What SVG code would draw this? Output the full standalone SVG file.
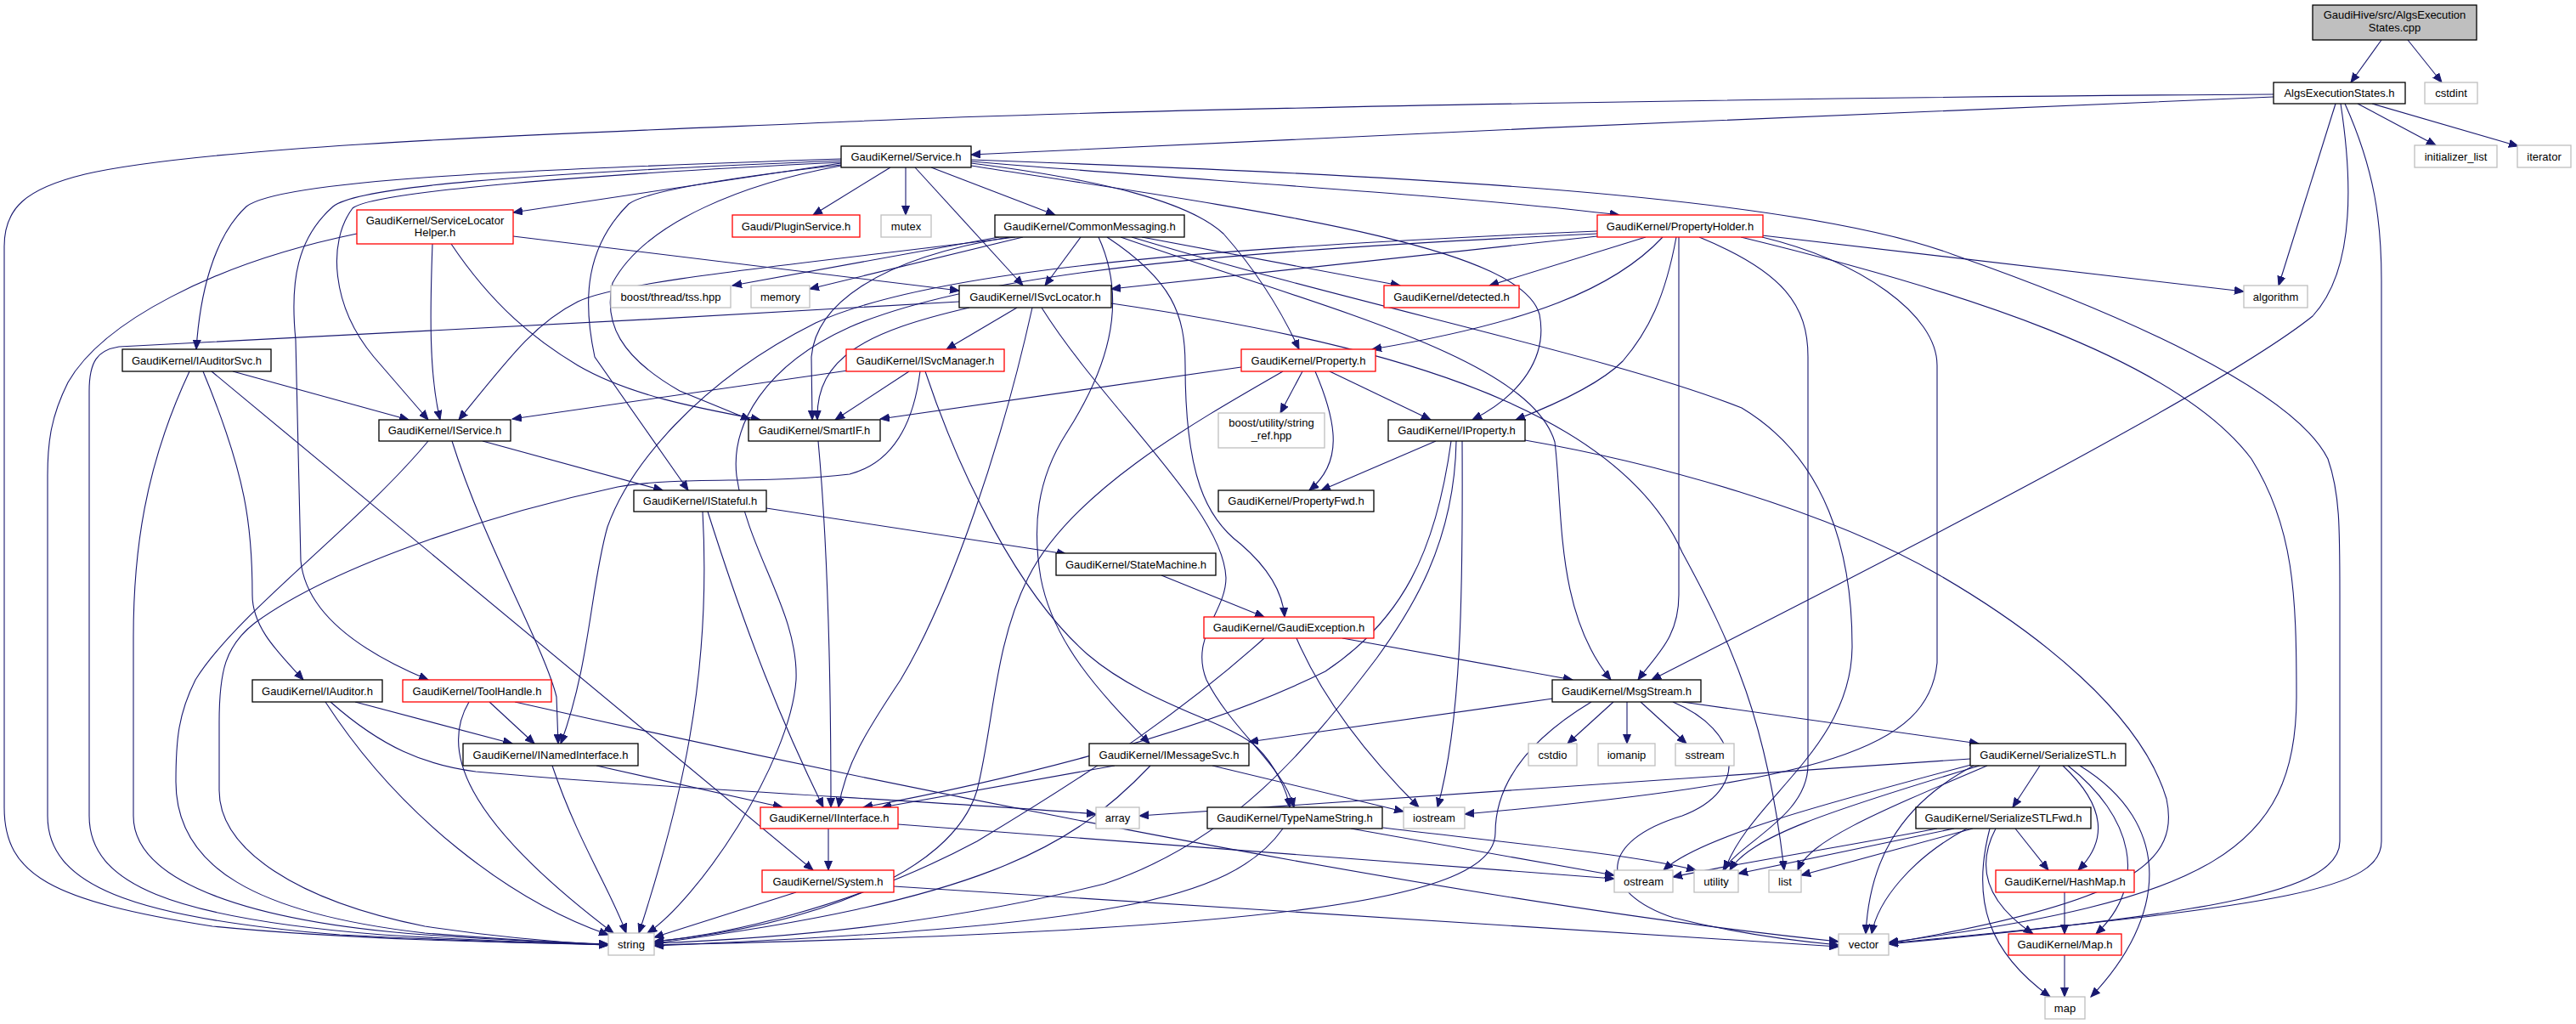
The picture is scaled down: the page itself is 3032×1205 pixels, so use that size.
<svg xmlns="http://www.w3.org/2000/svg" width="3032" height="1205" viewBox="0 0 3032 1205">
<defs>
<marker id="a" markerWidth="12" markerHeight="10" refX="11" refY="5" orient="auto" markerUnits="userSpaceOnUse"><path d="M0,0.5 L11,5 L0,9.5 z" fill="#191970" stroke="#191970" stroke-width="1"/></marker>
<style>
.e path{fill:none;stroke:#191970;stroke-width:1.1;marker-end:url(#a)}
.n rect{fill:#fff;stroke-width:1.3}
.k rect{stroke:#000}
.r rect{stroke:#ff0000}
.g rect{stroke:#bfbfbf}
.n text{font-family:"Liberation Sans",Arial,sans-serif;font-size:13px;text-anchor:middle;fill:#000}
</style>
</defs>
<rect width="3032" height="1205" fill="#fff"/>
<g id="edges" class="e">
<path d="M2803,47 L2767,97"/>
<path d="M2834,47 L2874,97"/>
<path d="M2775,122 L2867,171"/>
<path d="M2792,122 L2964,172"/>
<path d="M2749,122 L2682,336"/>
<path d="M2755,122 C2770,220 2770,320 2722,372 C2600,470 2100,720 1944,800"/>
<path d="M2760,122 C2795,200 2803,260 2803,330 L2803,990 C2803,1045 2700,1065 2223,1110"/>
<path d="M2676,114 C2300,128 1600,160 1143,182"/>
<path d="M2676,111 C2300,113 1400,125 1000,143 C700,156 250,170 100,205 C30,222 5,245 5,290 L5,950 C5,1030 60,1060 250,1090 C400,1105 600,1110 716,1111"/>
<path d="M990,192 L604,250"/>
<path d="M1048,197 L957,253"/>
<path d="M1066,197 L1066,253"/>
<path d="M1077,197 L1204,336"/>
<path d="M1096,197 L1242,253"/>
<path d="M1143,190 C1400,212 1700,228 1906,253"/>
<path d="M1143,188 C1600,205 2100,225 2300,300 C2500,370 2700,460 2740,540 C2754,580 2754,620 2754,700 L2754,990 C2754,1050 2600,1075 2223,1111"/>
<path d="M1143,192 C1300,212 1400,238 1440,275 C1480,320 1510,370 1529,411"/>
<path d="M1143,195 C1500,250 1790,290 1812,370 C1822,420 1790,465 1733,494"/>
<path d="M990,187 C600,200 330,212 290,243 C250,280 235,350 231,411"/>
<path d="M990,189 C600,205 420,220 392,243 C350,280 341,330 348,400 L354,660 C360,720 420,765 504,800"/>
<path d="M990,191 C700,205 440,225 415,245 C385,285 390,360 440,420 L504,494"/>
<path d="M990,194 C850,210 760,225 740,240 C690,290 685,350 700,420 L810,577"/>
<path d="M990,195 C880,215 760,260 721,333 C710,380 730,420 800,460 L883,494"/>
<path d="M604,278 L1129,342"/>
<path d="M509,287 C506,370 505,440 518,494"/>
<path d="M531,287 C580,360 630,400 680,430 C740,465 820,480 895,494"/>
<path d="M420,275 C250,310 120,380 80,450 C60,490 56,520 56,560 L56,960 C56,1040 150,1080 400,1100 C550,1108 650,1110 716,1112"/>
<path d="M1176,279 L862,336"/>
<path d="M1204,279 L953,340"/>
<path d="M1272,279 L1230,336"/>
<path d="M1195,279 C950,310 730,330 680,355 C630,380 600,420 540,494"/>
<path d="M1188,279 C1030,305 960,360 955,420 L956,494"/>
<path d="M1293,279 C1330,360 1300,440 1255,510 C1220,565 1215,620 1225,680 C1240,760 1300,820 1353,875"/>
<path d="M1303,279 C1380,330 1395,370 1395,430 C1395,560 1420,610 1460,640 C1495,670 1510,700 1512,726"/>
<path d="M1344,279 L1648,336"/>
<path d="M1319,279 C1550,360 1800,420 1830,520 C1840,600 1830,720 1896,800"/>
<path d="M1332,279 C1600,360 1900,420 2050,480 C2150,540 2180,650 2180,760 C2180,880 2060,940 2030,1024"/>
<path d="M1308,357 C1600,400 1900,470 1980,650 C2040,760 2080,850 2100,1024"/>
<path d="M1880,278 L1308,340"/>
<path d="M1937,279 L1753,336"/>
<path d="M1957,279 C1900,340 1800,380 1615,411"/>
<path d="M1973,279 C1960,350 1940,390 1910,425 C1880,455 1820,480 1784,494"/>
<path d="M1976,279 L1976,700 C1976,750 1950,770 1928,800"/>
<path d="M2074,277 L2641,343"/>
<path d="M2000,279 C2100,320 2128,360 2128,420 L2128,900 C2128,960 2050,990 2028,1024"/>
<path d="M2074,279 C2190,307 2280,370 2280,430 L2280,780 C2270,880 2150,920 1724,958"/>
<path d="M2049,279 C2300,340 2560,420 2650,540 C2700,620 2703,700 2703,820 C2703,1000 2600,1060 2223,1109"/>
<path d="M1880,272 C1450,290 1100,315 960,380 C820,450 740,550 715,620 C695,690 695,780 660,875"/>
<path d="M1880,275 C1450,295 1150,320 1000,385 C900,430 860,500 867,560 C880,650 940,720 937,800 C930,900 820,1060 762,1098"/>
<path d="M1197,362 L1114,411"/>
<path d="M1141,362 C1020,390 960,420 962,494"/>
<path d="M1215,362 C1180,520 1120,700 1060,800 C1020,860 995,900 987,950"/>
<path d="M1226,362 C1300,480 1440,600 1443,680 C1443,720 1400,750 1420,800 C1450,860 1510,900 1523,950"/>
<path d="M1129,355 C800,375 300,400 140,408 C115,412 105,425 105,460 L105,960 C105,1040 200,1080 450,1100 C580,1108 670,1110 716,1112"/>
<path d="M274,437 L481,494"/>
<path d="M239,437 C290,560 297,620 297,700 C297,740 330,770 357,800"/>
<path d="M249,437 L957,1024"/>
<path d="M223,437 C170,550 157,650 157,750 L157,960 C157,1040 300,1085 500,1100 C600,1107 680,1110 716,1112"/>
<path d="M998,436 L603,493"/>
<path d="M1070,437 L983,494"/>
<path d="M1089,437 C1130,560 1200,700 1280,770 C1350,830 1450,850 1480,880 C1500,900 1515,930 1518,950"/>
<path d="M1083,437 C1075,500 1050,545 1000,558 C900,570 800,560 727,573 C600,600 400,660 300,733 C265,760 258,790 258,850 L258,930 C258,1000 350,1060 500,1090 C600,1105 680,1110 716,1112"/>
<path d="M1461,432 L1036,493"/>
<path d="M1510,437 C1400,500 1260,580 1210,680 C1170,760 1170,850 1150,930 C1120,1030 950,1090 770,1108"/>
<path d="M1533,437 L1507,486"/>
<path d="M1548,437 C1575,500 1580,545 1541,577"/>
<path d="M1565,437 L1684,494"/>
<path d="M568,519 L780,577"/>
<path d="M532,519 C570,640 640,760 655,820 L657,875"/>
<path d="M504,519 C420,620 280,720 230,800 C210,840 207,870 207,920 C207,1020 300,1075 500,1098 C600,1106 680,1110 716,1111"/>
<path d="M963,519 C975,650 978,800 978,950"/>
<path d="M1690,519 L1555,577"/>
<path d="M1708,519 C1690,650 1650,730 1560,790 C1400,870 1150,925 1016,950"/>
<path d="M1714,519 C1712,640 1660,720 1620,775 C1540,880 1450,990 1300,1040 C1100,1090 900,1105 770,1110"/>
<path d="M1721,519 C1722,700 1720,850 1692,950"/>
<path d="M1795,518 C1950,545 2150,600 2283,677 C2400,745 2520,840 2550,940 C2565,1010 2520,1060 2223,1110"/>
<path d="M902,598 L1255,652"/>
<path d="M833,602 C880,750 920,850 969,950"/>
<path d="M827,602 C838,800 800,950 752,1098"/>
<path d="M1367,677 L1488,726"/>
<path d="M1580,751 L1851,800"/>
<path d="M1488,751 C1400,830 1300,900 1150,990 C1000,1070 850,1100 770,1108"/>
<path d="M1526,751 C1560,830 1620,900 1670,950"/>
<path d="M418,826 L603,875"/>
<path d="M383,826 C470,960 600,1060 716,1100"/>
<path d="M389,826 C450,880 500,900 560,908 C800,930 1100,942 1290,958"/>
<path d="M576,826 L629,875"/>
<path d="M552,826 C520,880 540,960 722,1098"/>
<path d="M606,826 C1000,915 1700,1060 2164,1108"/>
<path d="M702,901 L921,950"/>
<path d="M650,901 C680,990 720,1050 737,1098"/>
<path d="M1312,901 L1038,950"/>
<path d="M1354,901 C1260,1000 1150,1060 770,1110"/>
<path d="M1427,901 L1652,955"/>
<path d="M975,975 L975,1024"/>
<path d="M1057,970 L1900,1034"/>
<path d="M937,1050 L770,1103"/>
<path d="M1052,1043 L2164,1114"/>
<path d="M1510,975 C1450,1060 1300,1090 770,1113"/>
<path d="M1590,975 L1900,1030"/>
<path d="M1628,974 C1800,995 1920,1005 1996,1024"/>
<path d="M1828,822 L1470,873"/>
<path d="M1899,826 L1845,875"/>
<path d="M1915,826 L1915,875"/>
<path d="M1931,826 L1985,875"/>
<path d="M1980,826 L2329,875"/>
<path d="M1873,826 C1800,870 1760,920 1760,980 C1760,1060 1500,1095 770,1112"/>
<path d="M1969,826 C2050,860 2060,930 1980,960 C1880,990 1880,1050 1970,1080 C2050,1100 2120,1108 2164,1112"/>
<path d="M2319,893 L1341,960"/>
<path d="M2401,901 L2369,950"/>
<path d="M2428,901 C2480,950 2480,990 2446,1024"/>
<path d="M2434,901 C2510,960 2530,1040 2467,1099"/>
<path d="M2448,901 C2560,970 2550,1080 2461,1173"/>
<path d="M2323,901 C2230,950 2200,1020 2196,1099"/>
<path d="M2339,901 C2200,960 2130,990 2116,1024"/>
<path d="M2330,901 C2150,955 2060,985 2036,1024"/>
<path d="M2320,900 C2150,945 2000,985 1958,1024"/>
<path d="M2372,975 L2411,1024"/>
<path d="M2349,975 C2320,1030 2350,1070 2393,1099"/>
<path d="M2342,975 C2320,1060 2340,1120 2413,1173"/>
<path d="M2300,975 L2046,1028"/>
<path d="M2322,975 L2120,1030"/>
<path d="M2315,975 C2250,1010 2210,1060 2203,1099"/>
<path d="M2280,975 C2150,1000 2050,1015 1969,1032"/>
<path d="M2430,1050 L2430,1099"/>
<path d="M2430,1124 L2430,1173"/>
</g>
<g id="n1" class="n k"><rect x="2722" y="6" width="193" height="41" style="fill:#bfbfbf"/><text x="2818.5" y="22">GaudiHive/src/AlgsExecution</text><text x="2818.5" y="37">States.cpp</text></g>
<g id="n2" class="n k"><rect x="2676" y="97" width="155" height="25"/><text x="2753.5" y="114">AlgsExecutionStates.h</text></g>
<g id="n3" class="n g"><rect x="2854" y="97" width="62" height="25"/><text x="2885" y="114">cstdint</text></g>
<g id="n4" class="n k"><rect x="990" y="172" width="153" height="25"/><text x="1066.5" y="189">GaudiKernel/Service.h</text></g>
<g id="n5" class="n g"><rect x="2842" y="171" width="97" height="26"/><text x="2890.5" y="188.5">initializer_list</text></g>
<g id="n6" class="n g"><rect x="2963" y="171" width="63" height="26"/><text x="2994.5" y="188.5">iterator</text></g>
<g id="n7" class="n g"><rect x="2641" y="336" width="75" height="26"/><text x="2678.5" y="353.5">algorithm</text></g>
<g id="n8" class="n r"><rect x="420" y="247" width="184" height="40"/><text x="512" y="264">GaudiKernel/ServiceLocator</text><text x="512" y="278">Helper.h</text></g>
<g id="n9" class="n r"><rect x="862" y="253" width="150" height="26"/><text x="937" y="270.5">Gaudi/PluginService.h</text></g>
<g id="n10" class="n g"><rect x="1037" y="253" width="59" height="26"/><text x="1066.5" y="270.5">mutex</text></g>
<g id="n11" class="n k"><rect x="1171" y="253" width="223" height="26"/><text x="1282.5" y="270.5">GaudiKernel/CommonMessaging.h</text></g>
<g id="n12" class="n r"><rect x="1880" y="253" width="195" height="26"/><text x="1977.5" y="270.5">GaudiKernel/PropertyHolder.h</text></g>
<g id="n13" class="n g"><rect x="719" y="336" width="141" height="26"/><text x="789.5" y="353.5">boost/thread/tss.hpp</text></g>
<g id="n14" class="n g"><rect x="884" y="336" width="69" height="26"/><text x="918.5" y="353.5">memory</text></g>
<g id="n15" class="n k"><rect x="1129" y="336" width="179" height="26"/><text x="1218.5" y="353.5">GaudiKernel/ISvcLocator.h</text></g>
<g id="n16" class="n r"><rect x="1629" y="336" width="159" height="26"/><text x="1708.5" y="353.5">GaudiKernel/detected.h</text></g>
<g id="n17" class="n k"><rect x="144" y="411" width="175" height="26"/><text x="231.5" y="428.5">GaudiKernel/IAuditorSvc.h</text></g>
<g id="n18" class="n r"><rect x="996" y="411" width="186" height="26"/><text x="1089" y="428.5">GaudiKernel/ISvcManager.h</text></g>
<g id="n19" class="n r"><rect x="1461" y="411" width="158" height="26"/><text x="1540" y="428.5">GaudiKernel/Property.h</text></g>
<g id="n20" class="n k"><rect x="446" y="494" width="155" height="25"/><text x="523.5" y="511">GaudiKernel/IService.h</text></g>
<g id="n21" class="n k"><rect x="881" y="494" width="155" height="25"/><text x="958.5" y="511">GaudiKernel/SmartIF.h</text></g>
<g id="n22" class="n g"><rect x="1434" y="486" width="125" height="41"/><text x="1496.5" y="502">boost/utility/string</text><text x="1496.5" y="517">_ref.hpp</text></g>
<g id="n23" class="n k"><rect x="1634" y="494" width="161" height="25"/><text x="1714.5" y="511">GaudiKernel/IProperty.h</text></g>
<g id="n24" class="n k"><rect x="746" y="577" width="156" height="25"/><text x="824" y="594">GaudiKernel/IStateful.h</text></g>
<g id="n25" class="n k"><rect x="1434" y="577" width="183" height="25"/><text x="1525.5" y="594">GaudiKernel/PropertyFwd.h</text></g>
<g id="n26" class="n k"><rect x="1243" y="651" width="188" height="26"/><text x="1337" y="668.5">GaudiKernel/StateMachine.h</text></g>
<g id="n27" class="n r"><rect x="1417" y="726" width="200" height="25"/><text x="1517" y="743">GaudiKernel/GaudiException.h</text></g>
<g id="n28" class="n k"><rect x="297" y="800" width="153" height="26"/><text x="373.5" y="817.5">GaudiKernel/IAuditor.h</text></g>
<g id="n29" class="n r"><rect x="474" y="800" width="175" height="26"/><text x="561.5" y="817.5">GaudiKernel/ToolHandle.h</text></g>
<g id="n30" class="n k"><rect x="1827" y="800" width="175" height="26"/><text x="1914.5" y="817.5">GaudiKernel/MsgStream.h</text></g>
<g id="n31" class="n k"><rect x="545" y="875" width="206" height="26"/><text x="648" y="892.5">GaudiKernel/INamedInterface.h</text></g>
<g id="n32" class="n k"><rect x="1282" y="875" width="188" height="26"/><text x="1376" y="892.5">GaudiKernel/IMessageSvc.h</text></g>
<g id="n33" class="n g"><rect x="1799" y="875" width="57" height="26"/><text x="1827.5" y="892.5">cstdio</text></g>
<g id="n34" class="n g"><rect x="1881" y="875" width="67" height="26"/><text x="1914.5" y="892.5">iomanip</text></g>
<g id="n35" class="n g"><rect x="1972" y="875" width="69" height="26"/><text x="2006.5" y="892.5">sstream</text></g>
<g id="n36" class="n k"><rect x="2319" y="875" width="183" height="26"/><text x="2410.5" y="892.5">GaudiKernel/SerializeSTL.h</text></g>
<g id="n37" class="n r"><rect x="895" y="950" width="162" height="25"/><text x="976" y="967">GaudiKernel/IInterface.h</text></g>
<g id="n38" class="n g"><rect x="1290" y="950" width="51" height="25"/><text x="1315.5" y="967">array</text></g>
<g id="n39" class="n k"><rect x="1421" y="950" width="206" height="25"/><text x="1524" y="967">GaudiKernel/TypeNameString.h</text></g>
<g id="n40" class="n g"><rect x="1652" y="950" width="72" height="25"/><text x="1688" y="967">iostream</text></g>
<g id="n41" class="n k"><rect x="2255" y="950" width="206" height="25"/><text x="2358" y="967">GaudiKernel/SerializeSTLFwd.h</text></g>
<g id="n42" class="n r"><rect x="897" y="1024" width="155" height="26"/><text x="974.5" y="1041.5">GaudiKernel/System.h</text></g>
<g id="n43" class="n g"><rect x="1900" y="1024" width="69" height="26"/><text x="1934.5" y="1041.5">ostream</text></g>
<g id="n44" class="n g"><rect x="1994" y="1024" width="52" height="26"/><text x="2020" y="1041.5">utility</text></g>
<g id="n45" class="n g"><rect x="2082" y="1024" width="38" height="26"/><text x="2101" y="1041.5">list</text></g>
<g id="n46" class="n r"><rect x="2349" y="1024" width="163" height="26"/><text x="2430.5" y="1041.5">GaudiKernel/HashMap.h</text></g>
<g id="n47" class="n g"><rect x="716" y="1098" width="54" height="26"/><text x="743" y="1115.5">string</text></g>
<g id="n48" class="n g"><rect x="2164" y="1099" width="59" height="25"/><text x="2193.5" y="1116">vector</text></g>
<g id="n49" class="n r"><rect x="2364" y="1099" width="133" height="25"/><text x="2430.5" y="1116">GaudiKernel/Map.h</text></g>
<g id="n50" class="n g"><rect x="2407" y="1173" width="47" height="26"/><text x="2430.5" y="1190.5">map</text></g>
</svg>
